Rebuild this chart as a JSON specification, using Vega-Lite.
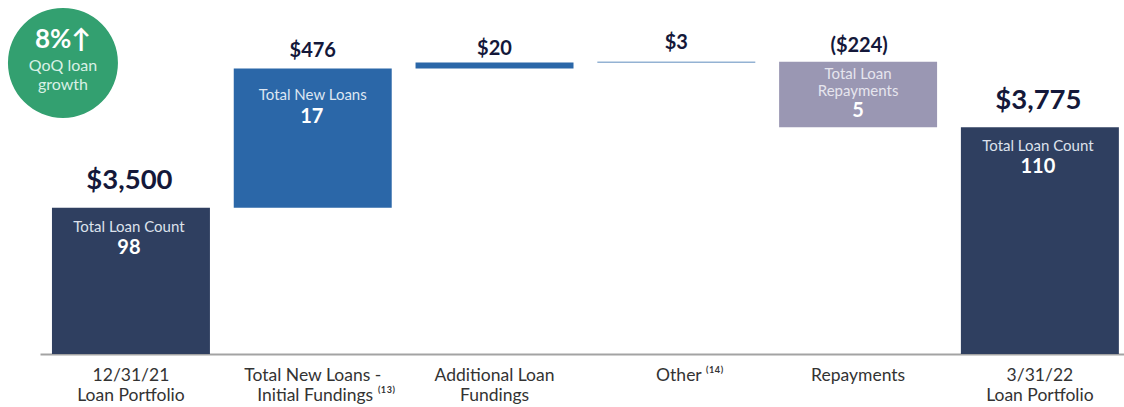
{
  "$schema": "https://vega.github.io/schema/vega-lite/v6.json",
  "width": 1084,
  "height": 354,
  "autosize": {"type": "none"},
  "padding": {"left": 40, "top": 0, "right": 0, "bottom": 53},
  "background": "white",
  "config": {"view": {"stroke": null}, "font": "Lato"},
  "datasets": {
    "steps": [
      {"step": "12/31/21|Loan Portfolio", "kind": "Balance", "low": 3000, "high": 3500, "amount": "$3,500", "caption": "Total Loan Count", "count": "98"},
      {"step": "Total New Loans -|\u200b\u00a0\u00a0\u00a0\u00a0\u00a0\u00a0Initial Fundings ⁽¹³⁾", "kind": "New loans", "low": 3500, "high": 3976, "amount": "$476", "caption": "Total New Loans", "count": "17"},
      {"step": "Additional Loan|Fundings", "kind": "Additional fundings", "low": 3976, "high": 3996, "amount": "$20"},
      {"step": "\u200b\u00a0\u00a0\u00a0\u00a0\u00a0\u00a0Other ⁽¹⁴⁾", "kind": "Other", "low": 3996, "high": 3999, "amount": "$3"},
      {"step": "Repayments", "kind": "Repayments", "low": 3775, "high": 3999, "amount": "($224)", "caption": ["Total Loan", "Repayments"], "count": "5"},
      {"step": "3/31/22|Loan Portfolio", "kind": "Balance", "low": 3000, "high": 3775, "amount": "$3,775", "caption": "Total Loan Count", "count": "110"}
    ],
    "badge": [
      {"step": "12/31/21|Loan Portfolio", "level": 3995, "headline": "8%↑", "note": ["QoQ loan", "growth"]}
    ]
  },
  "data": {"name": "steps"},
  "encoding": {
    "x": {
      "field": "step",
      "type": "nominal",
      "sort": null,
      "title": null,
      "scale": {"paddingInner": 0.131, "paddingOuter": 0.047, "align": 0.7},
      "axis": {
        "labelExpr": "split(datum.label, '|')",
        "labelAngle": 0,
        "labelFontSize": 17.5,
        "labelColor": "#333333",
        "labelLineHeight": 20,
        "labelPadding": 12.5,
        "labelOverlap": false,
        "labelBound": false,
        "labelFlush": false,
        "ticks": false,
        "grid": false,
        "domainColor": "#A3A3A3",
        "domainWidth": 2
      }
    }
  },
  "layer": [
    {
      "mark": {"type": "bar"},
      "encoding": {
        "y": {"field": "low", "type": "quantitative", "axis": null, "scale": {"domain": [3000, 4210], "nice": false, "zero": false}},
        "y2": {"field": "high"},
        "color": {
          "field": "kind",
          "type": "nominal",
          "legend": null,
          "scale": {
            "domain": ["Balance", "New loans", "Additional fundings", "Other", "Repayments"],
            "range": ["#2F3F60", "#2B67A8", "#2B67A8", "#2B67A8", "#9A97B3"]
          }
        }
      }
    },
    {
      "transform": [{"filter": "datum.kind === 'Balance'"}],
      "mark": {"type": "text", "fontWeight": "bold", "fontSize": 27.5, "color": "#14183A", "baseline": "middle", "dy": -26.5, "xOffset": -1.5},
      "encoding": {"y": {"field": "high", "type": "quantitative"}, "text": {"field": "amount"}}
    },
    {
      "transform": [{"filter": "datum.kind === 'New loans'"}],
      "mark": {"type": "text", "fontWeight": "bold", "fontSize": 20, "color": "#14183A", "baseline": "middle", "dy": -17.5},
      "encoding": {"y": {"field": "high", "type": "quantitative"}, "text": {"field": "amount"}}
    },
    {
      "transform": [{"filter": "datum.kind === 'Additional fundings'"}],
      "mark": {"type": "text", "fontWeight": "bold", "fontSize": 20, "color": "#14183A", "baseline": "middle", "dy": -14},
      "encoding": {"y": {"field": "high", "type": "quantitative"}, "text": {"field": "amount"}}
    },
    {
      "transform": [{"filter": "datum.kind === 'Other'"}],
      "mark": {"type": "text", "fontWeight": "bold", "fontSize": 20, "color": "#14183A", "baseline": "middle", "dy": -18.5},
      "encoding": {"y": {"field": "high", "type": "quantitative"}, "text": {"field": "amount"}}
    },
    {
      "transform": [{"filter": "datum.kind === 'Repayments'"}],
      "mark": {"type": "text", "fontWeight": "bold", "fontSize": 20, "color": "#14183A", "baseline": "middle", "dy": -16, "xOffset": 1},
      "encoding": {"y": {"field": "high", "type": "quantitative"}, "text": {"field": "amount"}}
    },
    {
      "transform": [{"filter": "datum.kind === 'Balance'"}],
      "mark": {"type": "text", "fontSize": 15, "color": "#DDE2EC", "baseline": "middle", "dy": 19, "xOffset": -2},
      "encoding": {"y": {"field": "high", "type": "quantitative"}, "text": {"field": "caption"}}
    },
    {
      "transform": [{"filter": "datum.kind === 'Balance'"}],
      "mark": {"type": "text", "fontSize": 20, "fontWeight": "bold", "color": "#FFFFFF", "baseline": "middle", "dy": 40, "xOffset": -2},
      "encoding": {"y": {"field": "high", "type": "quantitative"}, "text": {"field": "count"}}
    },
    {
      "transform": [{"filter": "datum.kind === 'New loans'"}],
      "mark": {"type": "text", "fontSize": 15, "color": "#DDE6F2", "baseline": "middle", "dy": 27},
      "encoding": {"y": {"field": "high", "type": "quantitative"}, "text": {"field": "caption"}}
    },
    {
      "transform": [{"filter": "datum.kind === 'New loans'"}],
      "mark": {"type": "text", "fontSize": 20, "fontWeight": "bold", "color": "#FFFFFF", "baseline": "middle", "dy": 49, "xOffset": -1},
      "encoding": {"y": {"field": "high", "type": "quantitative"}, "text": {"field": "count"}}
    },
    {
      "transform": [{"filter": "datum.kind === 'Repayments'"}],
      "mark": {"type": "text", "fontSize": 15, "color": "#E6E5EE", "baseline": "middle", "dy": 12, "lineHeight": 17},
      "encoding": {"y": {"field": "high", "type": "quantitative"}, "text": {"field": "caption"}}
    },
    {
      "transform": [{"filter": "datum.kind === 'Repayments'"}],
      "mark": {"type": "text", "fontSize": 20, "fontWeight": "bold", "color": "#FFFFFF", "baseline": "middle", "dy": 49.5},
      "encoding": {"y": {"field": "high", "type": "quantitative"}, "text": {"field": "count"}}
    },
    {
      "data": {"name": "badge"},
      "mark": {"type": "point", "shape": "circle", "filled": true, "opacity": 1, "color": "#33A070", "size": 12100, "xOffset": -68},
      "encoding": {"y": {"field": "level", "type": "quantitative"}}
    },
    {
      "data": {"name": "badge"},
      "mark": {"type": "text", "fontSize": 26, "fontWeight": "bold", "color": "#FFFFFF", "baseline": "middle", "xOffset": -68, "dy": -23},
      "encoding": {"y": {"field": "level", "type": "quantitative"}, "text": {"field": "headline"}}
    },
    {
      "data": {"name": "badge"},
      "mark": {"type": "text", "fontSize": 16, "color": "#D9F0E5", "baseline": "middle", "xOffset": -68, "dy": 3, "lineHeight": 19},
      "encoding": {"y": {"field": "level", "type": "quantitative"}, "text": {"field": "note"}}
    }
  ]
}
